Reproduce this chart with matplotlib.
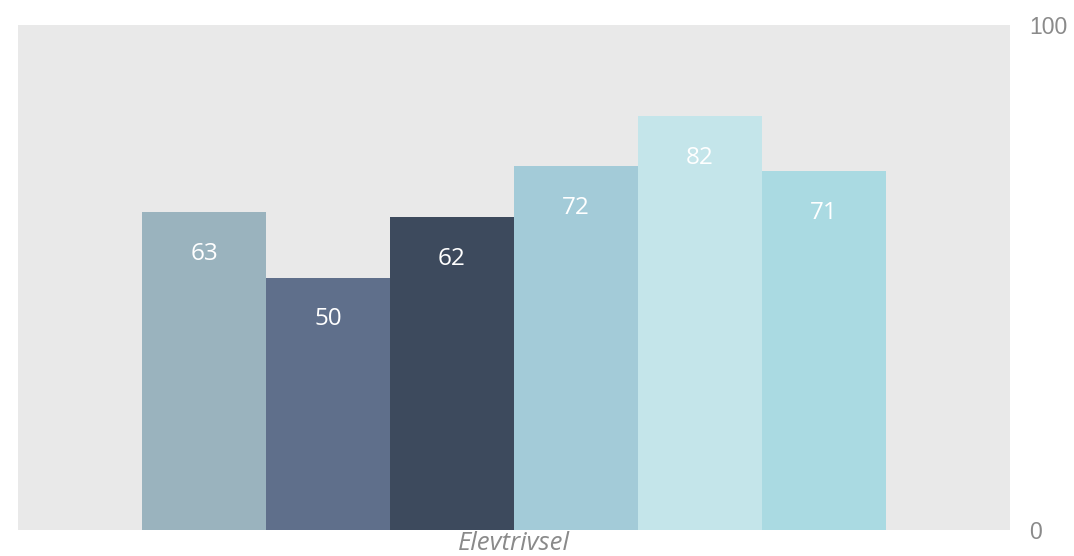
import matplotlib
matplotlib.use('Agg')
import matplotlib.pyplot as plt

# data
categories = ['A', 'B', 'C', 'D', 'E', 'F']
values = [63, 50, 62, 72, 82, 71]
bar_colors = ['#9AB3BE', '#5F6F8B', '#3D4A5D', '#A3CBD8', '#C4E5EA', '#AADAE2']
x_label = 'Elevtrivsel'
y_ticks = [0, 100]

fig = plt.figure(figsize=(10.74, 5.56), dpi=100)
ax = fig.add_axes([18/1074, 26/556, 992/1074, 505/556])
ax.set_facecolor('#E9E9E9')

x = list(range(len(values)))
bars = ax.bar(x, values, width=1.0, color=bar_colors, linewidth=0)
for b, v in zip(bars, values):
    ax.text(b.get_x() + b.get_width()/2, v - 8.3, f'{v}', ha='center', va='center',
            color='white', fontsize=17.5, family=['Open Sans', 'DejaVu Sans'])

ax.set_xlim(-1.5, 6.5)
ax.set_ylim(0, 100)
ax.set_xticks([])
ax.yaxis.tick_right()
ax.set_yticks(y_ticks)
ax.tick_params(axis='y', length=0, pad=14, labelsize=16.5, labelcolor='#8A8A8A')
for lbl in ax.get_yticklabels():
    lbl.set_family(['Liberation Sans', 'DejaVu Sans'])
for s in ax.spines.values():
    s.set_visible(False)

ax.set_xlabel(x_label, fontsize=18.5, style='italic', color='#8A8A8A',
              family=['Open Sans', 'DejaVu Sans'], labelpad=0.5)

fig.savefig('out.png', dpi=100)
